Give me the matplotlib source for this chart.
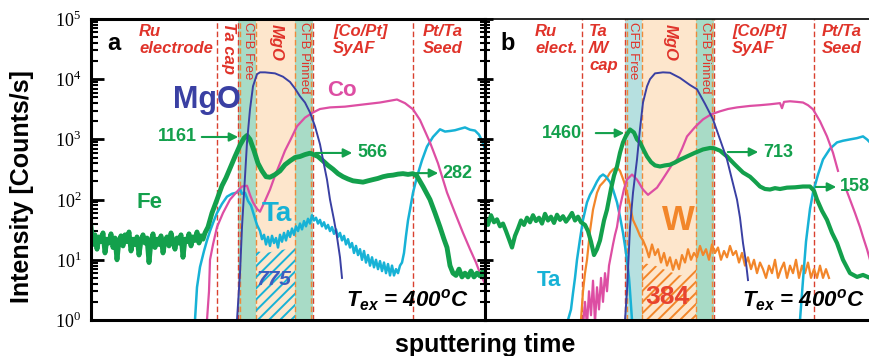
import numpy as np
import matplotlib.pyplot as plt
from matplotlib.ticker import LogLocator, NullFormatter, NullLocator

plt.rcParams['font.family'] = ['Liberation Sans', 'DejaVu Sans']
plt.rcParams['mathtext.fontset'] = 'custom'
plt.rcParams['mathtext.rm'] = 'Liberation Serif'
plt.rcParams['mathtext.it'] = 'Liberation Sans:bold:italic'
plt.rcParams['hatch.linewidth'] = 1.4

# ---- panel a data (sputtering time in arb. units, intensity in counts/s) ----
fe_a_t = [91, 93, 95, 97, 99, 101, 103, 105, 107, 109, 111, 113, 115, 117, 119, 121, 123, 125, 127, 129,
          131, 133, 135, 137, 139, 141, 143, 145, 147, 149, 151, 153, 155, 157, 159, 161, 163, 165, 167, 169,
          171, 173, 175, 177, 179, 181, 183, 185, 187, 189, 191, 193, 195, 197, 199, 201, 203, 205,
          208, 212, 217, 222, 226, 230, 235, 240, 244, 247, 250, 254, 258, 262, 266, 270, 275, 280, 285,
          290, 295, 300, 305, 310, 313, 318, 323, 328, 333, 338, 343, 348, 353, 358, 363, 368, 373, 378,
          383, 388, 393, 398, 403, 408, 413, 417, 423, 430, 435, 440, 444, 447, 450, 453, 456, 459, 462,
          465, 468, 471, 474, 477, 480, 483, 485]
fe_a = [35, 18, 26, 15, 24, 20, 28, 13, 22, 19, 27, 16, 23, 10, 21, 25, 17, 26, 20, 29,
        14, 22, 18, 24, 12, 21, 26, 19, 23, 9, 20, 27, 16, 22, 18, 25, 13, 21, 24, 17,
        28, 20, 15, 23, 19, 26, 11, 22, 20, 27, 17, 24, 21, 29, 19, 25, 22, 28,
        35, 60, 100, 170, 230, 330, 520, 800, 1050, 1161, 1000, 650, 400, 300, 240, 235, 260, 300, 380,
        440, 500, 520, 560, 590, 566, 520, 440, 370, 320, 270, 240, 220, 205, 200, 195, 205, 215, 225,
        240, 250, 255, 265, 270, 262, 270, 245, 165, 100, 60, 35, 22, 16, 8, 6, 5.5, 7, 5.2,
        6, 5.2, 6.5, 5.2, 6, 5.4, 6.5, 5.5]

mgo_a_t = [237, 240, 242, 245, 247, 250, 253, 257, 260, 265, 275, 283, 290, 295, 300, 305, 310,
           315, 320, 323, 327, 330, 334, 337, 340, 342]
mgo_a = [1, 6, 35, 240, 890, 3160, 7640, 12100, 13000, 13000, 12500, 11000, 9000, 7000, 5200, 4100,
         2800, 1650, 830, 460, 215, 100, 46, 24, 11, 5]

co_a_t = [207, 209, 210, 213, 217, 223, 230, 236, 242, 247, 250, 253, 257, 260, 265, 270, 275, 280,
          285, 290, 297, 305, 313, 320, 330, 345, 363, 380, 397, 405, 413, 420, 430, 438, 447, 455,
          463, 470, 476, 480, 485]
co_a = [1, 3, 10, 18, 35, 60, 100, 130, 165, 170, 120, 90, 70, 63, 95, 147, 250, 400,
        650, 950, 1650, 2300, 2800, 3200, 3400, 3500, 3800, 4100, 4600, 4000, 3160, 2100, 890, 400, 131, 60,
        28, 15, 9, 6, 4]

ta_a_t = [195, 197, 200, 204, 207, 210, 214, 217, 222, 227, 232, 237, 240, 242, 245, 248, 251, 254,
          257, 260, 262, 264, 266, 268, 270, 272, 274, 276, 278, 280, 282, 284, 286, 288, 290, 292,
          294, 296, 298, 300, 302, 304, 306, 308, 310, 312, 314, 316, 318, 320, 322, 324, 326, 328,
          330, 332, 334, 336, 338, 340, 342, 344, 346, 348, 350, 352, 354, 356, 358, 360, 362, 364,
          366, 368, 370, 372, 374, 376, 378, 380, 382, 384, 386, 388, 390, 392, 394, 396, 398, 400,
          402, 404, 406, 408, 410, 413, 417, 422, 427, 433, 440, 445, 450, 455, 460, 465, 470, 475,
          479, 482, 485]
ta_a = [1, 3.5, 7.6, 14, 21, 30, 45, 60, 85, 112, 125, 131, 150, 125, 130, 95, 80, 55,
        38, 30, 22, 26, 18, 24, 17, 25, 19, 23, 16, 26, 20, 28, 21, 30, 24, 33,
        26, 36, 30, 40, 32, 44, 36, 48, 40, 55, 45, 50, 40, 46, 36, 42, 33, 38,
        30, 35, 27, 32, 24, 28, 21, 25, 18, 22, 16, 19, 13, 17, 12, 15, 10, 14,
        9, 12, 8, 11, 7.5, 10, 7, 9.5, 6.5, 9, 6, 8.5, 5.5, 8, 5.5, 7, 6, 8,
        9, 13, 25, 45, 68, 130, 240, 450, 760, 1100, 1470, 1350, 1380, 1420, 1500, 1580, 1450, 1400,
        1200, 950, 700]

hatch_a_t = [256, 266, 276, 286, 295]
hatch_a = [14, 13, 14, 15, 16]

# ---- panel b data ----
fe_b_t = [485, 488, 491, 494, 497, 500, 503, 506, 509, 512, 515, 518, 521, 524, 527, 530, 533, 536,
          539, 542, 545, 548, 551, 554, 557, 560, 563, 566, 569, 572, 575, 578, 581, 585, 588, 591,
          594, 597, 600, 604, 607, 611, 614, 617, 620, 623, 626, 630, 634, 637, 640, 644, 647, 651,
          655, 660, 665, 670, 675, 680, 687, 695, 703, 710, 714, 720, 727, 735, 743, 750, 755, 760,
          765, 770, 775, 780, 787, 795, 803, 810, 814, 817, 822, 827, 832, 837, 843, 850, 857, 863,
          870, 877]
fe_b = [50, 38, 55, 42, 47, 36, 40, 30, 22, 16, 25, 33, 45, 38, 50, 42, 55, 44,
        50, 40, 58, 45, 52, 41, 56, 46, 53, 43, 50, 60, 45, 52, 42, 38, 30, 20,
        12, 15, 21, 45, 68, 150, 250, 355, 600, 891, 1150, 1460, 1300, 1000, 891, 650, 521, 420,
        370, 355, 370, 380, 414, 460, 521, 600, 681, 720, 713, 650, 521, 380, 282, 240, 200, 165,
        150, 147, 155, 150, 158, 160, 165, 165, 140, 100, 65, 46, 28, 19, 10, 6, 5.2, 5.6,
        5, 5.2]

mgo_b_t = [625, 627, 630, 633, 637, 640, 643, 647, 650, 655, 663, 670, 680, 690, 697, 705, 713,
           720, 727, 732, 737, 740, 743, 746, 748]
mgo_b = [1, 3, 35, 130, 464, 1500, 4100, 7600, 10000, 12500, 13000, 12800, 10500, 8000, 6800, 3900,
         2150, 1000, 464, 215, 100, 50, 19, 9, 4.6]

co_b_t = [583, 585, 587, 589, 591, 593, 595, 597, 599, 601, 603, 605, 607, 609, 611, 613, 615, 617,
          620, 624, 627, 632, 637, 643, 648, 653, 657, 662, 667, 672, 677, 682, 687, 695, 703, 711,
          720, 728, 737, 750, 760, 770, 780, 782, 784, 790, 797, 803, 808, 813, 820, 827, 833, 838,
          842, 846, 850, 855, 860, 863, 867, 870, 877]
co_b = [0.8, 2, 0.8, 3, 1.2, 4.5, 0.9, 3.5, 1.5, 5, 2, 6, 3, 8, 12, 18, 26, 35,
        76, 150, 215, 261, 215, 147, 120, 140, 158, 210, 282, 380, 464, 700, 1120, 1600, 2150, 2600,
        2930, 3200, 3400, 3600, 3700, 3830, 4000, 3300, 4200, 4300, 4200, 4100, 3700, 3160, 2000, 1120, 600, 300,
        np.nan, 150, 100, 60, 35, 24, 15, 10, 5]

ta_b_t = [568, 571, 573, 575, 577, 580, 583, 587, 590, 593, 597, 600, 603, 606, 610, 613, 617, 620,
          623, 625, 627, 629, 630, 632, 700, 800, 803, 806, 810, 813, 818, 823, 830, 837, 843, 850,
          857, 863, 867, 870, 877]
ta_b = [1, 1.5, 2.8, 5, 10, 22, 46, 90, 120, 147, 200, 240, 261, 240, 195, 147, 90, 52,
        28, 17, 10, 5, 3, 1, np.nan, 1, 4.6, 20, 70, 131, 260, 464, 700, 891, 950, 1000,
        1050, 1122, 1000, 890, 600]

w_b_t = [581, 583, 585, 587, 590, 593, 597, 600, 603, 607, 610, 613, 617, 620, 624, 627, 630, 633,
         637, 640, 643, 646, 649, 652, 655, 658, 661, 664, 667, 670, 673, 676, 679, 682, 685, 688,
         691, 694, 697, 700, 703, 706, 709, 712, 715, 718, 721, 724, 727, 730, 733, 736, 739, 742,
         745, 748, 751, 754, 757, 760, 763, 766, 769, 772, 775, 778, 781, 784, 787, 790, 793, 796,
         799, 802, 805, 808, 811, 814, 817, 820, 823, 826, 829]
w_b = [1, 3, 6, 10, 30, 68, 130, 170, 192, 230, 280, 316, 342, 300, 200, 131, 80, 46,
       33, 25, 21, 16, 11, 18, 12, 15, 9, 13, 8, 11, 6.8, 10, 7, 12, 9, 15,
       10, 13, 11, 17, 12, 15, 10, 18, 13, 16, 10, 14, 11, 17, 12, 14, 9, 13,
       8, 11, 7, 10, 6, 9, 7, 5, 8, 6, 10, 5, 7, 9, 5, 8, 6, 10,
       5, 8, 6, 9, 5, 7, 5, 8, 5, 7, 5]

hatch_b_t = [642, 655, 668, 680, 690, 696]
hatch_b = [9, 8, 6.5, 5.5, 6, 7]

# colours
GREEN = '#13a04c'
NAVY = '#3a40a3'
PINK = '#dd4ea3'
CYAN = '#17b2d6'
ORANGE = '#f2862a'
RED = '#e0332a'
DASH_RED = '#d9412f'
DASH_OR = '#ee8a3a'

fig = plt.figure(figsize=(8.7, 3.56), dpi=100)
axa = fig.add_axes([91 / 870, 36 / 356, 394 / 870, 301 / 356])
axb = fig.add_axes([485 / 870, 36 / 356, 392 / 870, 301 / 356])
axa.set_xlim(91, 485)
axb.set_xlim(485, 877)

for ax in (axa, axb):
    ax.set_yscale('log')
    ax.set_ylim(1, 1e5)
    ax.xaxis.set_major_locator(NullLocator())
    ax.xaxis.set_minor_locator(NullLocator())
    ax.yaxis.set_major_locator(LogLocator(base=10, numticks=10))
    ax.yaxis.set_minor_locator(LogLocator(base=10, subs=np.arange(2, 10), numticks=10))
    for s in ax.spines.values():
        s.set_linewidth(2.2)

axa.spines['right'].set_visible(False)
axb.spines['right'].set_visible(False)
axb.spines['top'].set_linewidth(1.2)
axa.tick_params(axis='y', which='major', direction='in', length=9, width=2, pad=7, labelsize=13)
axa.tick_params(axis='y', which='minor', direction='in', length=5, width=1.5)
axa.set_yticks([1, 10, 100, 1e3, 1e4, 1e5])
axa.set_yticklabels([r'$10^{0}$', r'$10^{1}$', r'$10^{2}$', r'$10^{3}$', r'$10^{4}$', r'$10^{5}$'])
axb.tick_params(axis='y', which='major', direction='inout', length=12, width=2, labelleft=False)
axb.tick_params(axis='y', which='minor', direction='inout', length=7, width=1.5)
axb.yaxis.set_minor_formatter(NullFormatter())
axa.yaxis.set_minor_formatter(NullFormatter())

# layer shading and boundaries
axa.axvspan(238, 256, color='#a8dbc6', lw=0, zorder=0)
axa.axvspan(256, 295, color='#fde6cc', lw=0, zorder=0)
axa.axvspan(295, 313, color='#a8dbc6', lw=0, zorder=0)
axb.axvspan(625, 642, color='#b6e0e0', lw=0, zorder=0)
axb.axvspan(642, 696, color='#fde6cc', lw=0, zorder=0)
axb.axvspan(696, 714, color='#a8dbc6', lw=0, zorder=0)
for x in (217, 238, 313, 413):
    axa.axvline(x, color=DASH_RED, ls=(0, (4, 2)), lw=1.0, zorder=1)
for x in (240, 256, 295, 311):
    axa.axvline(x, color=DASH_OR, ls=(0, (4, 2)), lw=1.0, zorder=1)
for x in (582, 625, 714, 814):
    axb.axvline(x, color=DASH_RED, ls=(0, (4, 2)), lw=1.0, zorder=1)
for x in (627, 642, 696, 712):
    axb.axvline(x, color=DASH_OR, ls=(0, (4, 2)), lw=1.0, zorder=1)

# hatched areas
axa.fill_between(hatch_a_t, 1, hatch_a, facecolor='none', edgecolor=CYAN, hatch='///', lw=0, zorder=1.5)
axb.fill_between(hatch_b_t, 1, hatch_b, facecolor='none', edgecolor=ORANGE, hatch='///', lw=0, zorder=1.5)

# curves
axa.plot(ta_a_t, ta_a, color=CYAN, lw=1.8, zorder=2)
axa.plot(co_a_t, co_a, color=PINK, lw=1.6, zorder=2.1)
axa.plot(fe_a_t, fe_a, color=GREEN, lw=3.5, zorder=2.2)
axa.plot(mgo_a_t, mgo_a, color=NAVY, lw=1.4, zorder=2.3)

axb.plot(w_b_t, w_b, color=ORANGE, lw=1.6, zorder=2)
axb.plot(ta_b_t, ta_b, color=CYAN, lw=1.8, zorder=2.1)
axb.plot(co_b_t, co_b, color=PINK, lw=1.6, zorder=2.2)
axb.plot(fe_b_t, fe_b, color=GREEN, lw=3.0, zorder=2.3)
axb.plot(mgo_b_t, mgo_b, color=NAVY, lw=1.4, zorder=2.4)

# layer labels
lab = dict(color=RED, fontsize=12, fontweight='bold', fontstyle='italic', linespacing=1.2)
cfb = dict(color=RED, fontsize=9.5, rotation=-90, ha='center', va='top')
ta = axa.get_xaxis_transform()
tb = axb.get_xaxis_transform()
axa.text(139, 0.985, 'Ru\nelectrode', transform=ta, ha='left', va='top', **lab)
axa.text(229, 0.99, 'Ta cap', transform=ta, ha='center', va='top', rotation=-90, **lab)
axa.text(248, 0.99, 'CFB Free', transform=ta, **cfb)
axa.text(276, 0.985, 'MgO', transform=ta, ha='center', va='top', rotation=-90, **lab)
axa.text(304, 0.99, 'CFB Pinned', transform=ta, **cfb)
axa.text(333, 0.985, '[Co/Pt]\nSyAF', transform=ta, ha='left', va='top', **lab)
axa.text(423, 0.985, 'Pt/Ta\nSeed', transform=ta, ha='left', va='top', **lab)

axb.text(535, 0.985, 'Ru\nelect.', transform=tb, ha='left', va='top', **lab)
axb.text(589, 0.985, 'Ta\n/W\ncap', transform=tb, ha='left', va='top', **lab)
axb.text(633, 0.99, 'CFB Free', transform=tb, **cfb)
axb.text(670, 0.985, 'MgO', transform=tb, ha='center', va='top', rotation=-90, **lab)
axb.text(705, 0.99, 'CFB Pinned', transform=tb, **cfb)
axb.text(732, 0.985, '[Co/Pt]\nSyAF', transform=tb, ha='left', va='top', **lab)
axb.text(822, 0.985, 'Pt/Ta\nSeed', transform=tb, ha='left', va='top', **lab)

axa.text(107, 0.92, 'a', transform=ta, fontsize=17, fontweight='bold', va='center')
axb.text(500, 0.92, 'b', transform=tb, fontsize=17, fontweight='bold', va='center')

# element labels
axa.text(207, 0.731, 'MgO', transform=ta, color=NAVY, fontsize=22, fontweight='bold', ha='center', va='center')
axa.text(342, 0.764, 'Co', transform=ta, color=PINK, fontsize=16, fontweight='bold', ha='center', va='center')
axa.text(150, 0.389, 'Fe', transform=ta, color=GREEN, fontsize=16, fontweight='bold', ha='center', va='center')
axa.text(277, 0.352, 'Ta', transform=ta, color=CYAN, fontsize=20, fontweight='bold', ha='center', va='center')
axa.text(274, 0.133, '775', transform=ta, color='#3b5cc0', fontsize=15, fontweight='bold',
         fontstyle='italic', ha='center', va='center')
axb.text(678, 0.332, 'W', transform=tb, color=ORANGE, fontsize=25, fontweight='bold', ha='center', va='center')
axb.text(549, 0.130, 'Ta', transform=tb, color=CYAN, fontsize=16, fontweight='bold', ha='center', va='center')
axb.text(667, 0.076, '384', transform=tb, color='#e8432f', fontsize=19, fontweight='bold', ha='center', va='center')

tex = dict(fontsize=16, fontweight='bold', fontstyle='italic', va='center', ha='left')
axa.text(346, 0.066, r'$T_{ex}$ = 400$^{o}$C', transform=ta, **tex)
axb.text(742, 0.066, r'$T_{ex}$ = 400$^{o}$C', transform=tb, **tex)

# peak value arrows
arr = dict(arrowstyle='-|>', color=GREEN, lw=1.5, mutation_scale=13)
num = dict(color=GREEN, fontsize=13, fontweight='bold', va='center')
axa.annotate('', xy=(241, 0.608), xytext=(199, 0.608), xycoords=ta, textcoords=ta, arrowprops=arr)
axa.text(197, 0.608, '1161', transform=ta, ha='right', **num)
axa.annotate('', xy=(355, 0.555), xytext=(313, 0.555), xycoords=ta, textcoords=ta, arrowprops=arr)
axa.text(357, 0.555, '566', transform=ta, ha='left', **num)
axa.annotate('', xy=(441, 0.488), xytext=(413, 0.488), xycoords=ta, textcoords=ta, arrowprops=arr)
axa.text(442, 0.488, '282', transform=ta, ha='left', **num)
axb.annotate('', xy=(627, 0.621), xytext=(593, 0.621), xycoords=tb, textcoords=tb, arrowprops=arr)
axb.text(582, 0.621, '1460', transform=tb, ha='right', **num)
axb.annotate('', xy=(761, 0.558), xytext=(725, 0.558), xycoords=tb, textcoords=tb, arrowprops=arr)
axb.text(763, 0.558, '713', transform=tb, ha='left', **num)
axb.annotate('', xy=(839, 0.442), xytext=(813, 0.442), xycoords=tb, textcoords=tb, arrowprops=arr)
axb.text(840, 0.442, '158', transform=tb, ha='left', **num)

fig.text(22 / 870, 0.475, 'Intensity [Counts/s]', rotation=90, fontsize=18, fontweight='bold',
         ha='center', va='center')
fig.text(485 / 870, 0.031, 'sputtering time', fontsize=18, fontweight='bold', ha='center', va='center')

fig.savefig('out.png', dpi=100)
